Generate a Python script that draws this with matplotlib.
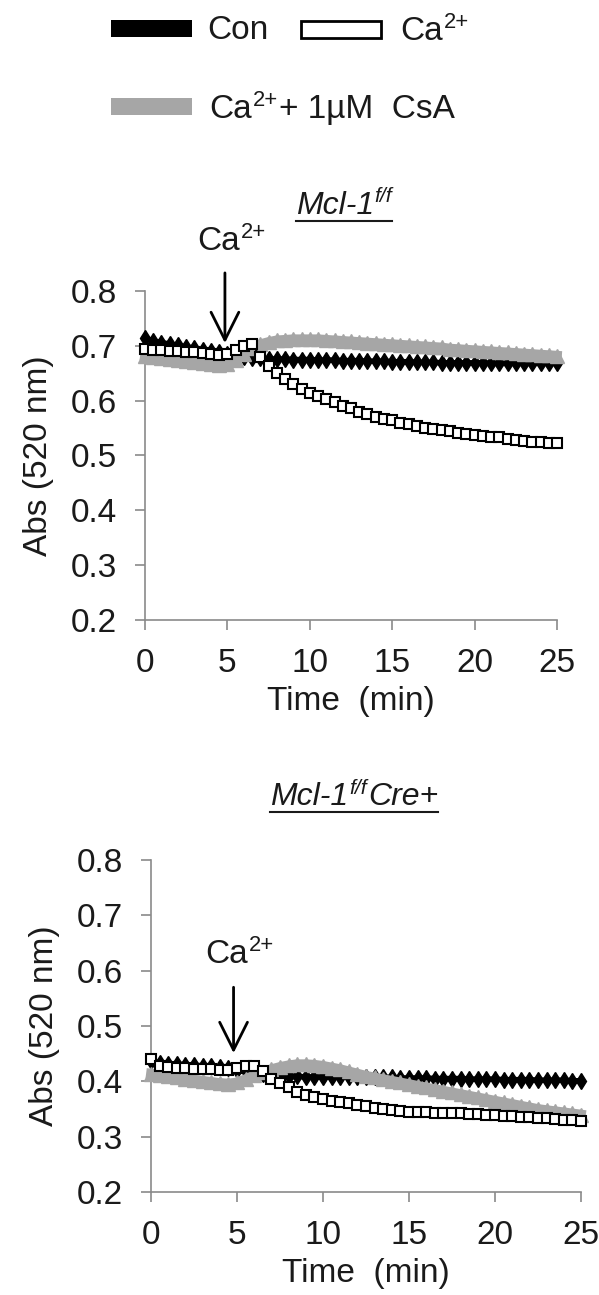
import numpy as np
import matplotlib
matplotlib.use("Agg")
import matplotlib.pyplot as plt
from matplotlib.patches import Rectangle
from matplotlib.lines import Line2D

plt.rcParams["font.family"] = ["Liberation Sans", "DejaVu Sans"]

# sampling times (min)
time_min = np.arange(0, 25.01, 0.5)

# ---- Mcl-1 f/f ----
floxed_con = [0.714, 0.709, 0.706, 0.703, 0.701, 0.698, 0.696, 0.693, 0.691, 0.689,
              0.686, 0.683, 0.680, 0.678, 0.677, 0.676, 0.676, 0.676, 0.675, 0.675,
              0.675, 0.674, 0.674, 0.674, 0.673, 0.673, 0.673, 0.672, 0.672, 0.672,
              0.671, 0.671, 0.671, 0.670, 0.670, 0.670, 0.669, 0.669, 0.669, 0.669,
              0.669, 0.669, 0.668, 0.668, 0.668, 0.668, 0.668, 0.668, 0.668, 0.668,
              0.668]
floxed_ca = [0.695, 0.693, 0.692, 0.691, 0.690, 0.689, 0.688, 0.687, 0.686, 0.684,
             0.685, 0.693, 0.700, 0.703, 0.680, 0.664, 0.650, 0.640, 0.630, 0.621,
             0.614, 0.608, 0.603, 0.597, 0.591, 0.586, 0.580, 0.575, 0.570, 0.567,
             0.564, 0.560, 0.557, 0.553, 0.550, 0.548, 0.546, 0.544, 0.541, 0.539,
             0.537, 0.535, 0.534, 0.533, 0.531, 0.528, 0.526, 0.525, 0.524, 0.523,
             0.522]
floxed_csa = [0.682, 0.680, 0.678, 0.676, 0.674, 0.672, 0.670, 0.668, 0.666, 0.665,
              0.667, 0.675, 0.686, 0.696, 0.703, 0.707, 0.710, 0.711, 0.712, 0.712,
              0.712, 0.712, 0.711, 0.710, 0.709, 0.708, 0.707, 0.706, 0.705, 0.704,
              0.703, 0.702, 0.701, 0.700, 0.699, 0.698, 0.697, 0.695, 0.694, 0.693,
              0.692, 0.691, 0.690, 0.689, 0.688, 0.687, 0.686, 0.685, 0.684, 0.683,
              0.682]

# ---- Mcl-1 f/f Cre+ ----
cre_con = [0.436, 0.434, 0.432, 0.431, 0.430, 0.429, 0.428, 0.427, 0.426, 0.424,
           0.421, 0.419, 0.416, 0.414, 0.412, 0.410, 0.409, 0.409, 0.408, 0.408,
           0.408, 0.408, 0.408, 0.408, 0.408, 0.407, 0.407, 0.407, 0.407, 0.406,
           0.406, 0.406, 0.406, 0.405, 0.405, 0.405, 0.405, 0.404, 0.404, 0.404,
           0.404, 0.403, 0.403, 0.403, 0.403, 0.402, 0.402, 0.402, 0.402, 0.401,
           0.401]
cre_ca = [0.440, 0.428, 0.426, 0.425, 0.424, 0.423, 0.422, 0.422, 0.421, 0.421,
          0.424, 0.427, 0.428, 0.418, 0.405, 0.397, 0.389, 0.381, 0.375, 0.371,
          0.368, 0.365, 0.362, 0.360, 0.357, 0.355, 0.352, 0.350, 0.348, 0.346,
          0.345, 0.344, 0.344, 0.343, 0.343, 0.342, 0.342, 0.341, 0.341, 0.340,
          0.339, 0.338, 0.337, 0.336, 0.335, 0.334, 0.333, 0.332, 0.331, 0.330,
          0.329]
cre_csa = [0.414, 0.412, 0.409, 0.407, 0.405, 0.403, 0.401, 0.399, 0.397, 0.396,
           0.398, 0.404, 0.411, 0.417, 0.422, 0.426, 0.429, 0.431, 0.431, 0.430,
           0.428, 0.425, 0.422, 0.418, 0.414, 0.410, 0.407, 0.404, 0.401, 0.398,
           0.395, 0.392, 0.389, 0.386, 0.383, 0.380, 0.377, 0.374, 0.371, 0.368,
           0.365, 0.362, 0.359, 0.356, 0.353, 0.350, 0.348, 0.346, 0.344, 0.342,
           0.340]

x_ticks = [0, 5, 10, 15, 20, 25]
y_ticks = [0.2, 0.3, 0.4, 0.5, 0.6, 0.7, 0.8]
y_tick_labels = ["0.2", "0.3", "0.4", "0.5", "0.6", "0.7", "0.8"]

W, H = 599, 1295
FS = 24
TXT = "#1a1a1a"
SPINE = "#8a8a8a"
GRAY = "#a6a6a6"

fig = plt.figure(figsize=(W / 100, H / 100), dpi=100)
fig.patch.set_facecolor("white")
renderer = fig.canvas.get_renderer()


def fx(x):
    return x / W


def fy(y):
    return 1 - y / H


def rich_text(x, y, parts, size, ha="left", style="normal"):
    """Lay out text pieces with raised superscripts; x, y are pixels from
    the top-left corner, y being the baseline. Returns the ink extent."""
    arts = []
    for s, sup in parts:
        fs = size * 0.66 if sup else size
        t = fig.text(0, 0, s, fontsize=fs, style=style, color=TXT,
                     ha="left", va="baseline")
        arts.append((t, sup))
    widths = [t.get_window_extent(renderer).width for t, _ in arts]
    gap = 1.0
    total = sum(widths) + gap * (len(widths) - 1)
    x0 = x - total / 2 if ha == "center" else x
    cur = x0
    rise = size * 100 / 72 * 0.36
    for (t, sup), w in zip(arts, widths):
        t.set_position((fx(cur), fy(y - rise if sup else y)))
        cur += w + gap
    return x0, x0 + total


def draw_panel(rect, con, ca, csa, arrow_x, arrow_tail, arrow_tip):
    ax = fig.add_axes(rect)
    ax.plot(time_min, con, color="black", lw=4, marker="d", ms=8.5,
            mfc="black", mec="black", zorder=3, clip_on=False)
    ax.plot(time_min, csa, color=GRAY, lw=7, marker="^", ms=10,
            mfc=GRAY, mec=GRAY, zorder=4, clip_on=False)
    ax.plot(time_min, ca, color="black", lw=1.5, marker="s", ms=7.3,
            mfc="white", mec="black", mew=1.5, zorder=5, clip_on=False)

    ax.set_xlim(0, 25)
    ax.set_ylim(0.2, 0.8)
    ax.set_xticks(x_ticks)
    ax.set_yticks(y_ticks)
    ax.set_yticklabels(y_tick_labels)
    for s in ("top", "right"):
        ax.spines[s].set_visible(False)
    for s in ("left", "bottom"):
        ax.spines[s].set_color(SPINE)
        ax.spines[s].set_linewidth(1.2)
    ax.tick_params(direction="out", length=7, width=1.2, color=SPINE,
                   labelsize=FS, labelcolor=TXT, pad=13)
    ax.set_xlabel("Time  (min)", fontsize=FS, color=TXT, labelpad=5)
    ax.set_ylabel("Abs (520 nm)", fontsize=FS, color=TXT, labelpad=12)

    ax.annotate("", xy=(arrow_x, arrow_tip), xytext=(arrow_x, arrow_tail),
                annotation_clip=False,
                arrowprops=dict(arrowstyle="->,head_length=1.0,head_width=0.5",
                                mutation_scale=20, lw=2, color="black",
                                shrinkA=0, shrinkB=0))
    return ax


ax1 = draw_panel([fx(145), fy(620), fx(412), 329 / H],
                 floxed_con, floxed_ca, floxed_csa, 4.85, 0.833, 0.705)
ax2 = draw_panel([fx(151), fy(1192), fx(430), 332 / H],
                 cre_con, cre_ca, cre_csa, 4.8, 0.570, 0.451)

# calcium addition labels above the arrows
rich_text(232, 250, [("Ca", False), ("2+", True)], FS, ha="center")
rich_text(240, 963, [("Ca", False), ("2+", True)], FS, ha="center")

# panel titles, underlined
for cx, base, parts in [
    (344, 214, [("Mcl-1", False), ("f/f", True)]),
    (354, 805, [("Mcl-1", False), ("f/f", True), ("Cre+", False)]),
]:
    x0, x1 = rich_text(cx, base, parts, 23, ha="center", style="italic")
    fig.add_artist(Line2D([fx(x0), fx(x1)], [fy(base + 7), fy(base + 7)],
                          transform=fig.transFigure, color=TXT, lw=1.5))

# legend
fig.add_artist(Rectangle((fx(111), fy(37)), 81 / W, 17 / H, transform=fig.transFigure,
                         fc="black", ec="none"))
rich_text(207, 39, [("Con", False)], FS)
fig.add_artist(Rectangle((fx(301), fy(38)), 80 / W, 17 / H, transform=fig.transFigure,
                         fc="white", ec="black", lw=2))
rich_text(400, 40, [("Ca", False), ("2+", True)], FS)
fig.add_artist(Rectangle((fx(111), fy(115)), 81 / W, 17 / H, transform=fig.transFigure,
                         fc=GRAY, ec="none"))
rich_text(209, 118, [("Ca", False), ("2+", True), ("+ 1µM  CsA", False)], FS)

fig.savefig("out.png", dpi=100, facecolor="white")
